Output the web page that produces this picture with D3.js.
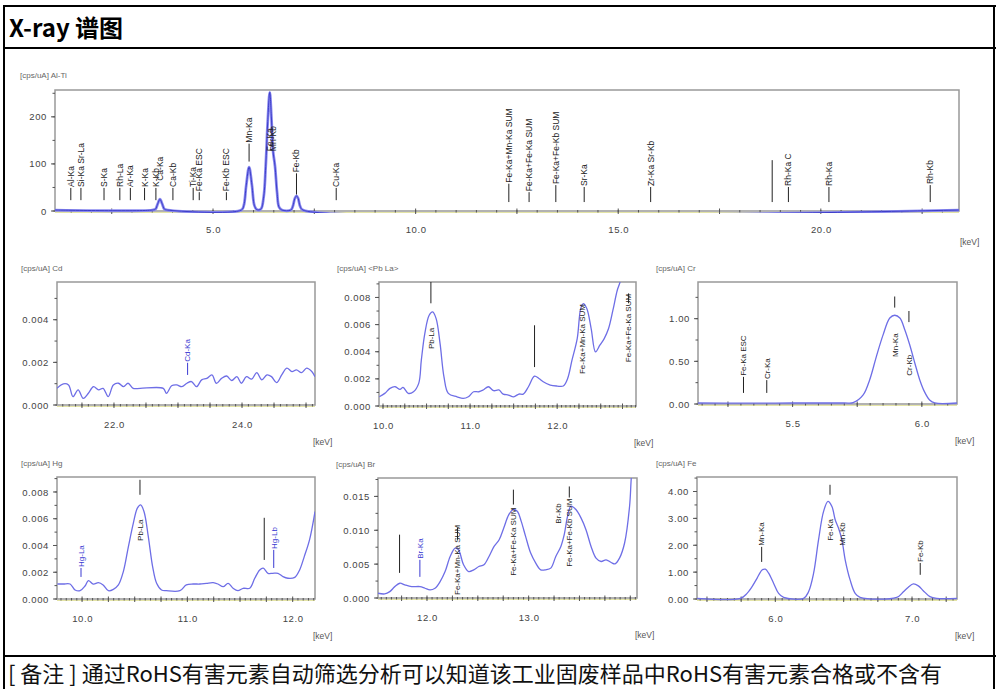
<!DOCTYPE html>
<html><head><meta charset="utf-8">
<script src="https://cdn.jsdelivr.net/npm/d3@7"></script>
<style>
body{margin:0;background:#fff;}
svg{display:block;}
</style></head><body>
<svg id="c" width="996" height="689"></svg>
<script>
// ---------------- DATA ----------------
const titleText = "X-ray 谱图";
const noteText = "[ 备注 ] 通过RoHS有害元素自动筛选分析可以知道该工业固废样品中RoHS有害元素合格或不含有";
const panelTitles = ["[cps/uA] Al-Ti","[cps/uA] Cd","[cps/uA] <Pb La>","[cps/uA] Cr","[cps/uA] Hg","[cps/uA] Br","[cps/uA] Fe"];
const unitLabel = "[keV]";

// axis domains [keV] and [cps/uA]
const topXDom=[1.10,23.41], topYDom=[0,257];
const cdXDom=[21.11,25.14], cdYDom=[0,0.00577];
const pbXDom=[9.954,12.905], pbYDom=[0,0.00914];
const crXDom=[5.134,6.136], crYDom=[0,1.43];
const hgXDom=[9.762,12.212], hgYDom=[0,0.00912];
const brXDom=[11.518,14.066], brYDom=[0,0.01772];
const feXDom=[5.427,7.329], feYDom=[0,4.54];

// tick labels
const topXTicks=[5,10,15,20], topYTicks=[0,100,200];
const cdXTicks=[22,24], cdYTicks=[0,0.002,0.004];
const pbXTicks=[10,11,12], pbYTicks=[0,0.002,0.004,0.006,0.008];
const crXTicks=[5.5,6.0], crYTicks=[0,0.5,1.0];
const hgXTicks=[10,11,12], hgYTicks=[0,0.002,0.004,0.006,0.008];
const brXTicks=[12,13], brYTicks=[0,0.005,0.010,0.015];
const feXTicks=[6,7], feYTicks=[0,1,2,3,4];

// spectra [keV, cps/uA]
const topSpectrum=[[1.10,2],[3.50,2],[3.58,4],[3.63,14],[3.69,25],[3.75,14],[3.80,4],[3.88,2],[5.70,2],[5.76,12],[5.82,55],[5.89,93],[5.96,55],[6.02,12],[6.08,3],[6.18,4],[6.25,30],[6.30,95],[6.35,190],[6.40,252],[6.44,200],[6.48,128],[6.53,95],[6.58,40],[6.63,8],[6.70,2],[6.92,2],[6.97,10],[7.02,27],[7.06,32],[7.10,27],[7.15,10],[7.22,2],[23.41,2]];
const cdSpectrum=[[21.11,0.00078],[21.21,0.00099],[21.29,0.00094],[21.36,0.00039],[21.44,0.00071],[21.52,0.00031],[21.60,0.00055],[21.68,0.00086],[21.76,0.00071],[21.83,0.00078],[21.91,0.00039],[21.99,0.00094],[22.07,0.00102],[22.15,0.00086],[22.22,0.00102],[22.30,0.00078],[22.41,0.00078],[22.77,0.00078],[22.82,0.00055],[22.90,0.0009],[22.98,0.00094],[23.06,0.00086],[23.14,0.00102],[23.21,0.0011],[23.29,0.00086],[23.37,0.00118],[23.45,0.00125],[23.53,0.00141],[23.60,0.00102],[23.68,0.00125],[23.76,0.00136],[23.84,0.00115],[23.92,0.00133],[23.99,0.00102],[24.07,0.00133],[24.15,0.00121],[24.23,0.00152],[24.31,0.00118],[24.39,0.00141],[24.46,0.00133],[24.54,0.00105],[24.62,0.00141],[24.70,0.00173],[24.78,0.00157],[24.85,0.00165],[24.93,0.00152],[25.01,0.00173],[25.09,0.00157],[25.14,0.00133]];
const pbSpectrum=[[9.957,0.00068],[10.02,0.00093],[10.08,0.0013],[10.14,0.00142],[10.195,0.00122],[10.23,0.00137],[10.29,0.00093],[10.35,0.00105],[10.41,0.00167],[10.44,0.00338],[10.48,0.00534],[10.53,0.00669],[10.57,0.00693],[10.61,0.00644],[10.655,0.00461],[10.70,0.00215],[10.75,0.00093],[10.85,0.00068],[10.92,0.00056],[10.98,0.00068],[11.04,0.00105],[11.10,0.00105],[11.15,0.00118],[11.21,0.00142],[11.27,0.00113],[11.33,0.00118],[11.38,0.00088],[11.44,0.00081],[11.50,0.00068],[11.56,0.00088],[11.61,0.00088],[11.67,0.00142],[11.74,0.0022],[11.79,0.00203],[11.84,0.00179],[11.92,0.00154],[12.00,0.00147],[12.07,0.00147],[12.12,0.00203],[12.17,0.00338],[12.23,0.00497],[12.27,0.00718],[12.30,0.00755],[12.34,0.00718],[12.39,0.00571],[12.44,0.00399],[12.49,0.00448],[12.54,0.00497],[12.59,0.00571],[12.64,0.00706],[12.69,0.00853],[12.72,0.00909],[12.76,0.0102]];
const crSpectrum=[[5.134,0.012],[5.30,0.010],[5.50,0.012],[5.70,0.012],[5.734,0.015],[5.773,0.106],[5.798,0.282],[5.824,0.556],[5.85,0.81],[5.876,1.008],[5.895,1.04],[5.915,1.008],[5.934,0.87],[5.953,0.694],[5.973,0.478],[5.992,0.282],[6.01,0.145],[6.03,0.047],[6.05,0.012],[6.136,0.012]];
const hgSpectrum=[[9.766,0.00112],[9.823,0.00112],[9.886,0.00112],[9.934,0.00067],[9.981,0.00062],[10.028,0.00097],[10.06,0.00137],[10.107,0.00112],[10.155,0.00122],[10.20,0.00105],[10.25,0.00062],[10.297,0.00072],[10.345,0.00105],[10.392,0.00205],[10.44,0.00392],[10.487,0.00567],[10.525,0.00679],[10.556,0.00704],[10.588,0.00654],[10.629,0.00467],[10.67,0.00242],[10.708,0.00117],[10.755,0.00067],[10.80,0.00062],[10.929,0.00062],[10.99,0.00105],[11.055,0.00112],[11.118,0.00112],[11.18,0.00117],[11.245,0.00122],[11.29,0.00112],[11.34,0.00092],[11.387,0.00117],[11.434,0.0008],[11.48,0.00062],[11.53,0.0008],[11.592,0.0008],[11.64,0.00155],[11.687,0.00217],[11.72,0.0023],[11.766,0.00192],[11.81,0.00192],[11.86,0.00192],[11.908,0.00167],[11.955,0.00155],[12.02,0.00162],[12.066,0.00217],[12.11,0.00317],[12.16,0.00442],[12.212,0.00654]];
const brSpectrum=[[11.518,0.0007],[11.584,0.0006],[11.634,0.00094],[11.683,0.00168],[11.733,0.00218],[11.782,0.00193],[11.849,0.00168],[11.931,0.00168],[11.98,0.00144],[12.03,0.00119],[12.079,0.00144],[12.129,0.00242],[12.178,0.0039],[12.228,0.00613],[12.277,0.00737],[12.31,0.00712],[12.36,0.0049],[12.41,0.0039],[12.46,0.00416],[12.51,0.00465],[12.56,0.0049],[12.61,0.00613],[12.66,0.00761],[12.71,0.00861],[12.755,0.01034],[12.805,0.01232],[12.848,0.01306],[12.888,0.01281],[12.927,0.01132],[12.97,0.0091],[13.02,0.00663],[13.07,0.00515],[13.119,0.00416],[13.168,0.00416],[13.218,0.00441],[13.267,0.00613],[13.317,0.00761],[13.35,0.00935],[13.383,0.01207],[13.416,0.01355],[13.465,0.01306],[13.515,0.01183],[13.564,0.01009],[13.614,0.00761],[13.663,0.00589],[13.713,0.00539],[13.762,0.00564],[13.812,0.00524],[13.851,0.00505],[13.894,0.00589],[13.944,0.00812],[13.993,0.01355],[14.01,0.01776],[14.03,0.0210]];
const feSpectrum=[[5.428,0.025],[5.745,0.025],[5.793,0.21],[5.83,0.46],[5.866,0.77],[5.903,1.08],[5.927,1.11],[5.951,0.96],[5.988,0.58],[6.024,0.21],[6.061,0.06],[6.207,0.025],[6.243,0.27],[6.28,0.96],[6.316,2.2],[6.353,3.26],[6.385,3.63],[6.414,3.44],[6.438,2.95],[6.462,2.64],[6.487,2.2],[6.511,1.46],[6.547,0.71],[6.584,0.21],[6.62,0.06],[6.888,0.06],[6.937,0.27],[6.973,0.44],[7.01,0.56],[7.046,0.49],[7.082,0.31],[7.131,0.09],[7.18,0.025],[7.329,0.025]];

// peak markers: e = keV, lab = label, l0/l1 = line extent (value), t0 = label base (value), b = blue
const topMarkers=[
 {e:1.49,lab:"Al-Ka",l0:23,l1:49,t0:49},{e:1.74,lab:"Si-Ka Sr-La",l0:23,l1:49,t0:49},
 {e:2.31,lab:"S-Ka",l0:23,l1:49,t0:49},{e:2.70,lab:"Rh-La",l0:23,l1:49,t0:49},
 {e:2.96,lab:"Ar-Ka",l0:23,l1:49,t0:49},{e:3.31,lab:"K-Ka",l0:23,l1:49,t0:49},
 {e:3.59,lab:"K-Kb",l0:23,l1:49,t0:49},{e:3.69,lab:"Ca-Ka",t0:62},
 {e:4.01,lab:"Ca-Kb",l0:23,l1:49,t0:49},{e:4.51,lab:"Ti-Ka",l0:23,l1:49,t0:49},
 {e:4.66,lab:"Fe-Ka ESC",l0:23,l1:40,t0:40},{e:5.33,lab:"Fe-Kb ESC",l0:23,l1:40,t0:40},
 {e:5.89,lab:"Mn-Ka",l0:105,l1:143,t0:143},{e:6.40,lab:"Fe-Ka",t0:125},{e:6.49,lab:"Mn-Kb",t0:125},
 {e:7.06,lab:"Fe-Kb",l0:35,l1:80,t0:80},{e:8.04,lab:"Cu-Ka",l0:23,l1:49,t0:49},
 {e:12.30,lab:"Fe-Ka+Mn-Ka SUM",l0:19,l1:58,t0:58},{e:12.80,lab:"Fe-Ka+Fe-Ka SUM",l0:19,l1:40,t0:40},
 {e:13.46,lab:"Fe-Ka+Fe-Kb SUM",l0:19,l1:55,t0:55},{e:14.16,lab:"Sr-Ka",l0:19,l1:51,t0:51},
 {e:15.80,lab:"Zr-Ka Sr-Kb",l0:19,l1:51,t0:51},{e:18.80,lab:"",l0:19,l1:108},
 {e:19.20,lab:"Rh-Ka C",l0:19,l1:51,t0:51},{e:20.20,lab:"Rh-Ka",l0:19,l1:51,t0:51},
 {e:22.70,lab:"Rh-Kb",l0:19,l1:55,t0:55}];
const cdMarkers=[{e:23.15,lab:"Cd-Ka",b:1,l0:0.00141,l1:0.00198,t0:0.00198}];
const pbMarkers=[{e:10.55,lab:"",l0:0.00757,l1:0.00914},{e:10.55,lab:"Pb-La",t0:0.00412},
 {e:11.74,lab:"",l0:0.00287,l1:0.00595},{e:12.29,lab:"Fe-Ka+Mn-Ka SUM",t0:0.00228},
 {e:12.82,lab:"",l0:0.00757,l1:0.0083},{e:12.82,lab:"Fe-Ka+Fe-Ka SUM",t0:0.00316}];
const crMarkers=[{e:5.31,lab:"Fe-Ka ESC",l0:0.13,l1:0.318,t0:0.318},{e:5.40,lab:"Cr-Ka",l0:0.13,l1:0.28,t0:0.28},
 {e:5.895,lab:"",l0:1.13,l1:1.26},{e:5.895,lab:"Mn-Ka",t0:0.54},
 {e:5.95,lab:"",l0:0.96,l1:1.09},{e:5.95,lab:"Cr-Kb",t0:0.32}];
const hgMarkers=[{e:9.99,lab:"Hg-La",b:1,l0:0.00165,l1:0.00232,t0:0.00232},
 {e:10.55,lab:"",l0:0.00779,l1:0.00891},{e:10.55,lab:"Pb-La",t0:0.00427},
 {e:11.73,lab:"",l0:0.00292,l1:0.00607},{e:11.82,lab:"Hg-Lb",b:1,l0:0.00232,l1:0.00367,t0:0.00367}];
const brMarkers=[{e:11.73,lab:"",l0:0.00371,l1:0.00935},{e:11.93,lab:"Br-Ka",b:1,l0:0.00312,l1:0.00564,t0:0.00564},
 {e:12.30,lab:"",l0:0.00861,l1:0.01039},{e:12.30,lab:"Fe-Ka+Mn-Ka SUM",t0:0.0003},
 {e:12.85,lab:"",l0:0.0138,l1:0.016},{e:12.85,lab:"Fe-Ka+Fe-Ka SUM",t0:0.00312},
 {e:13.29,lab:"Br-Kb",t0:0.01083},{e:13.40,lab:"",l0:0.01484,l1:0.01647},
 {e:13.40,lab:"Fe-Ka+Fe-Kb SUM",t0:0.00445}];
const feMarkers=[{e:5.90,lab:"Mn-Ka",l0:1.38,l1:1.94,t0:1.94},{e:6.40,lab:"",l0:3.88,l1:4.25},
 {e:6.40,lab:"Fe-Ka",t0:2.13},{e:6.49,lab:"Mn-Kb",t0:1.94},{e:7.06,lab:"Fe-Kb",l0:0.9,l1:1.34,t0:1.34}];

// ---------------- LAYOUT / DRAW ----------------
const svg=d3.select("#c");
const FONT="'Liberation Sans', Arial, sans-serif";
const CJK="'Noto Sans CJK SC', 'Liberation Sans', sans-serif";

// frame
const frame=svg.append("g").attr("stroke","#000").attr("stroke-width",2);
frame.append("line").attr("x1",4).attr("x2",996).attr("y1",6).attr("y2",6);
frame.append("line").attr("x1",4).attr("x2",4).attr("y1",5).attr("y2",689);
frame.append("line").attr("x1",994).attr("x2",994).attr("y1",5).attr("y2",689);
frame.append("line").attr("x1",4).attr("x2",996).attr("y1",48).attr("y2",48);
frame.append("line").attr("x1",4).attr("x2",996).attr("y1",656).attr("y2",656);

svg.append("text").attr("x",9).attr("y",37).attr("font-family",CJK).attr("font-weight","bold")
 .attr("font-size",24).attr("fill","#000").text(titleText);
svg.append("text").attr("x",8).attr("y",682).attr("font-family",CJK).attr("font-size",22)
 .attr("fill","#111").text(noteText);

const panels=[
 {id:"top",title:panelTitles[0],r:{x0:55,x1:959,y0:90,y1:211},xd:topXDom,yd:topYDom,xt:topXTicks,yt:topYTicks,
  xf:d3.format(".1f"),yf:d3.format("d"),xMaj:2.5,xMin:0.5,yMin:50,data:topSpectrum,mk:topMarkers,big:true,tx:20},
 {id:"cd",title:panelTitles[1],r:{x0:57,x1:315,y0:282,y1:405},xd:cdXDom,yd:cdYDom,xt:cdXTicks,yt:cdYTicks,
  xf:d3.format(".1f"),yf:d3.format(".3f"),xMaj:0.5,xMin:0.1,yMin:0.001,data:cdSpectrum,mk:cdMarkers,tx:21},
 {id:"pb",title:panelTitles[2],r:{x0:379,x1:636,y0:282,y1:406},xd:pbXDom,yd:pbYDom,xt:pbXTicks,yt:pbYTicks,
  xf:d3.format(".1f"),yf:d3.format(".3f"),xMaj:0.25,xMin:0.05,yMin:0.001,data:pbSpectrum,mk:pbMarkers,tx:337},
 {id:"cr",title:panelTitles[3],r:{x0:698,x1:957,y0:282,y1:404},xd:crXDom,yd:crYDom,xt:crXTicks,yt:crYTicks,
  xf:d3.format(".1f"),yf:d3.format(".2f"),xMaj:0.25,xMin:0.05,yMin:0.25,data:crSpectrum,mk:crMarkers,tx:656},
 {id:"hg",title:panelTitles[4],r:{x0:57,x1:315,y0:477,y1:599},xd:hgXDom,yd:hgYDom,xt:hgXTicks,yt:hgYTicks,
  xf:d3.format(".1f"),yf:d3.format(".3f"),xMaj:0.25,xMin:0.05,yMin:0.001,data:hgSpectrum,mk:hgMarkers,tx:21},
 {id:"br",title:panelTitles[5],r:{x0:378,x1:637,y0:478,y1:598},xd:brXDom,yd:brYDom,xt:brXTicks,yt:brYTicks,
  xf:d3.format(".1f"),yf:d3.format(".3f"),xMaj:0.25,xMin:0.05,yMin:0.0025,data:brSpectrum,mk:brMarkers,tx:336},
 {id:"fe",title:panelTitles[6],r:{x0:697,x1:957,y0:477,y1:599},xd:feXDom,yd:feYDom,xt:feXTicks,yt:feYTicks,
  xf:d3.format(".1f"),yf:d3.format(".2f"),xMaj:0.25,xMin:0.05,yMin:0.5,data:feSpectrum,mk:feMarkers,tx:656}
];

function rangeIn(d,step){const a=[];const s=Math.ceil(d[0]/step-1e-9);for(let i=s;i*step<=d[1]+1e-9;i++)a.push(+(i*step).toFixed(6));return a;}

panels.forEach(p=>{
 const r=p.r;
 const x=d3.scaleLinear().domain(p.xd).range([r.x0,r.x1]);
 const y=d3.scaleLinear().domain(p.yd).range([r.y1,r.y0]);
 const g=svg.append("g");
 const cid="clip-"+p.id;
 svg.append("clipPath").attr("id",cid).append("rect").attr("x",r.x0).attr("y",r.y0).attr("width",r.x1-r.x0).attr("height",r.y1-r.y0+2);

 g.append("text").attr("x",p.tx).attr("y",r.y0-(p.big?12:11)).attr("font-family",FONT).attr("font-size",8)
  .attr("fill","#666").text(p.title);

 // frame
 g.append("rect").attr("x",r.x0).attr("y",r.y0).attr("width",r.x1-r.x0).attr("height",r.y1-r.y0)
  .attr("fill","none").attr("stroke","#999").attr("stroke-width",1.5);
 g.append("line").attr("x1",r.x0).attr("x2",r.x1).attr("y1",r.y1+1.5).attr("y2",r.y1+1.5)
  .attr("stroke","#e4e4a6").attr("stroke-width",1.2);

 // ticks
 const tk=g.append("g").attr("stroke","#555").attr("stroke-width",1);
 rangeIn(p.xd,p.xMin).forEach(v=>tk.append("line").attr("x1",x(v)).attr("x2",x(v)).attr("y1",r.y1-1).attr("y2",r.y1+1.5));
 rangeIn(p.xd,p.xMaj).forEach(v=>tk.append("line").attr("x1",x(v)).attr("x2",x(v)).attr("y1",r.y1-2.5).attr("y2",r.y1+3));
 rangeIn(p.yd,p.yMin).forEach(v=>tk.append("line").attr("x1",r.x0-2.5).attr("x2",r.x0).attr("y1",y(v)).attr("y2",y(v)));
 p.yt.forEach(v=>tk.append("line").attr("x1",r.x0-4).attr("x2",r.x0).attr("y1",y(v)).attr("y2",y(v)));

 // axis labels
 const xa=g.append("g").attr("transform",`translate(0,${r.y1})`)
  .call(d3.axisBottom(x).tickValues(p.xt).tickFormat(p.xf).tickSize(0).tickPadding(p.big?15:16));
 const ya=g.append("g").attr("transform",`translate(${r.x0},0)`)
  .call(d3.axisLeft(y).tickValues(p.yt).tickFormat(p.yf).tickSize(0).tickPadding(8));
 [xa,ya].forEach(a=>{a.select(".domain").remove();a.selectAll("text").attr("font-family",FONT)
  .attr("font-size",9.5).attr("fill","#444").attr("letter-spacing",0.6);});

 g.append("text").attr("x",p.big?r.x1+1:r.x1-2).attr("y",r.y1+(p.big?34:40)).attr("font-family",FONT)
  .attr("font-size",8.5).attr("fill","#555").text(unitLabel);

 // spectrum
 const line=d3.line().x(d=>x(d[0])).y(d=>y(d[1])).curve(d3.curveCatmullRom.alpha(0.5));
 const sg=g.append("g").attr("clip-path",`url(#${cid})`);
 if(p.big){
  sg.append("path").datum(p.data).attr("d",line).attr("fill","none").attr("stroke","#8a8aef").attr("stroke-width",2.8);
  sg.append("path").datum(p.data).attr("d",line).attr("fill","none").attr("stroke","#3434c4").attr("stroke-width",0.9);
 } else {
  sg.append("path").datum(p.data).attr("d",line).attr("fill","none").attr("stroke","#6e6ee6").attr("stroke-width",1.3);
 }

 // markers
 const mg=g.append("g");
 p.mk.forEach(m=>{
  const col=m.b?"#3a3ad2":"#222";
  if(m.l0!==undefined){
   mg.append("line").attr("x1",x(m.e)).attr("x2",x(m.e)).attr("y1",y(m.l0)).attr("y2",y(m.l1))
    .attr("stroke",col).attr("stroke-width",1);
  }
  if(m.lab){
   mg.append("text").attr("transform",`translate(${x(m.e)},${y(m.t0)-1}) rotate(-90)`)
    .attr("dy","0.35em").attr("font-family",FONT).attr("font-size",p.big?8.5:8)
    .attr("fill",col).text(m.lab);
  }
 });
});
</script>
</body></html>
